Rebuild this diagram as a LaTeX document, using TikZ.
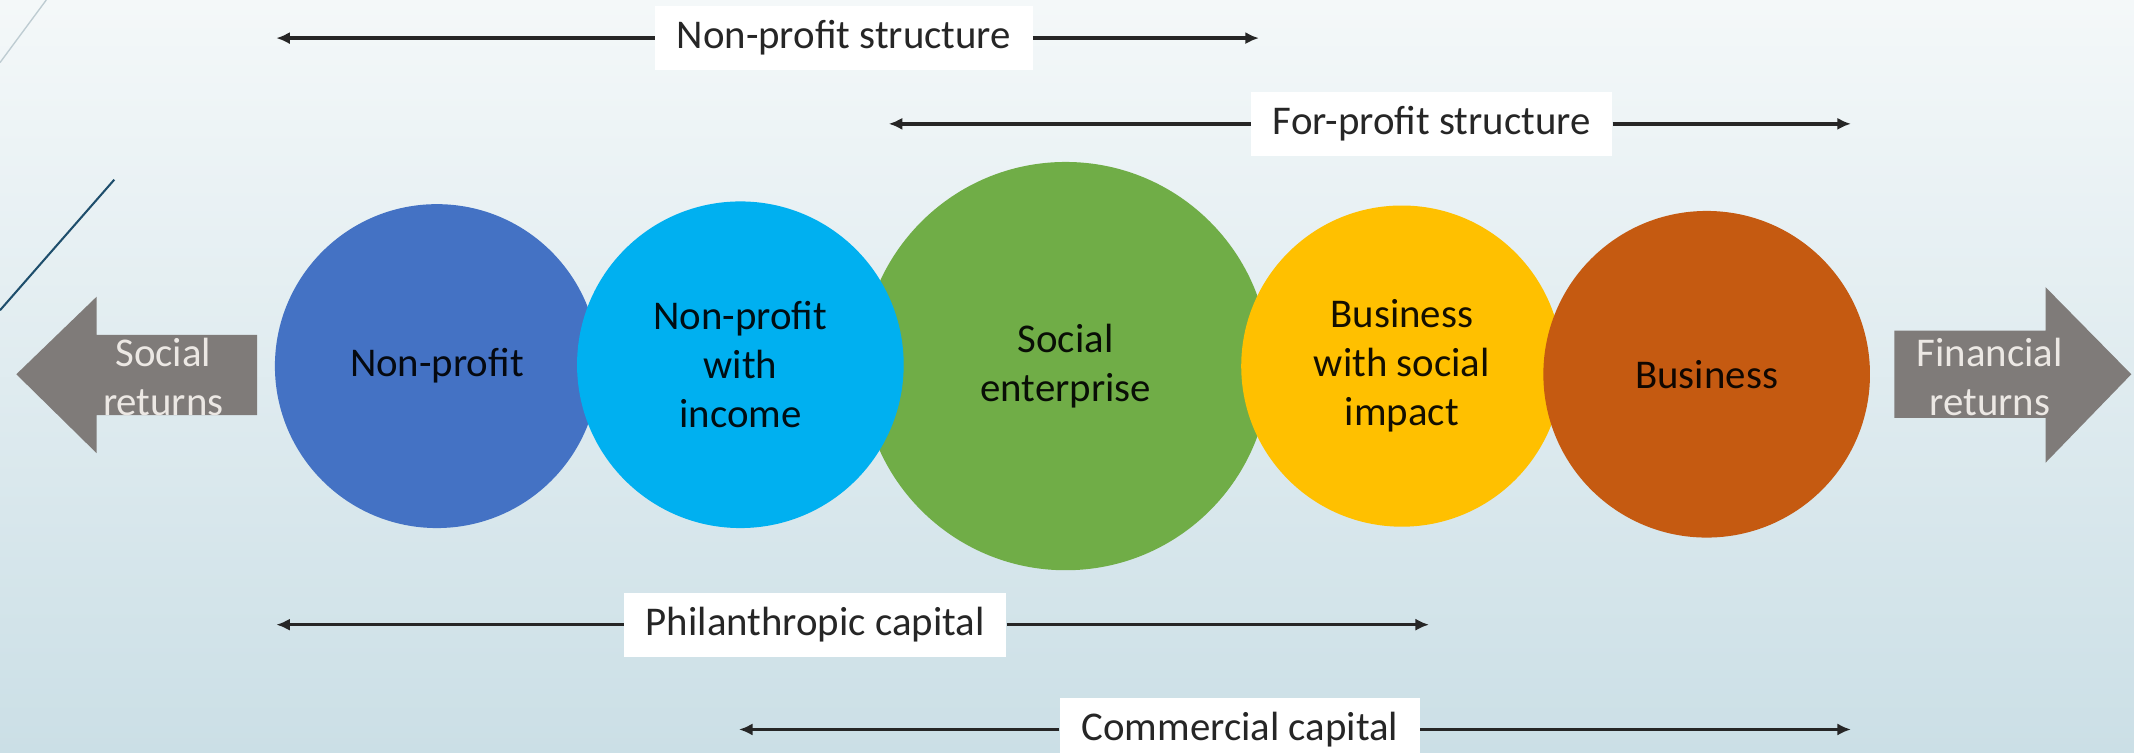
\documentclass[tikz,border=0pt]{standalone}
\usepackage{fontspec}
\setmainfont{Carlito}
\usetikzlibrary{arrows.meta}
\definecolor{bgtop}{RGB}{244,248,249}
\definecolor{bgbot}{RGB}{203,223,230}
\definecolor{cnp}{RGB}{68,114,196}
\definecolor{cnpi}{RGB}{0,176,240}
\definecolor{cse}{RGB}{112,173,71}
\definecolor{cbsi}{RGB}{255,192,0}
\definecolor{cbus}{RGB}{197,90,17}
\definecolor{agray}{RGB}{127,123,121}
\definecolor{atext}{RGB}{236,232,228}
\definecolor{ltext}{RGB}{38,38,38}
\definecolor{deco}{RGB}{30,78,108}
\definecolor{decol}{RGB}{190,204,210}
\tikzset{
  bubble/.style={circle, inner sep=0pt, align=center, font=\fontsize{30}{36}\selectfont},
  rangelab/.style={fill=white, inner xsep=16pt, inner ysep=0pt, minimum height=47pt, text=ltext, font=\fontsize{30}{36}\selectfont},
  rangeline/.style={draw=black!85, line width=2.6pt, -{Latex[length=10pt,width=9pt]}},
  bigarrow/.style={fill=agray},
  arrowtext/.style={text=atext, align=center, font=\fontsize{30}{36}\selectfont}
}
\begin{document}
\begin{tikzpicture}[x=1pt,y=-1pt]
\useasboundingbox (0,0) rectangle (1568,553);
\shade[top color=bgtop, bottom color=bgbot] (0,0) rectangle (1568,553);
% decorative lines
\draw[decol, line width=1pt] (0,46) -- (34,0);
\draw[deco, line width=1.5pt] (84,132) -- (0,228);
% big arrows
\fill[bigarrow] (12,275) -- (71,218) -- (71,246) -- (189,246) -- (189,305) -- (71,305) -- (71,333) -- cycle;
\fill[bigarrow] (1392,243) -- (1503,243) -- (1503,211) -- (1566,275) -- (1503,340) -- (1503,307) -- (1392,307) -- cycle;
\node[arrowtext] (soc) at (120,277) {Social\\returns};
\node[arrowtext] (fin) at (1462,277) {Financial\\returns};
% circles
\node[bubble, fill=cnp, minimum size=238pt, text=black!92!cnp] (np) at (321,269) {Non-profit};
\node[bubble, fill=cse, minimum size=300pt, text=black!92!cse] (se) at (783,269) {Social\\enterprise};
\node[bubble, fill=cnpi, minimum size=240pt, text=black!92!cnpi] (npi) at (544,268) {Non-profit\\with\\income};
\node[bubble, fill=cbsi, minimum size=236pt, text=black!92!cbsi] (bsi) at (1030,269) {Business\\with social\\impact};
\node[bubble, fill=cbus, minimum size=240pt, text=black!92!cbus] (bus) at (1254,275) {Business};
% range labels
\coordinate (nps-l) at (203,28);
\coordinate (nps-r) at (925,28);
\coordinate (fps-l) at (653,91);
\coordinate (fps-r) at (1360,91);
\coordinate (phc-l) at (203,459);
\coordinate (phc-r) at (1050,459);
\coordinate (coc-l) at (543,536);
\coordinate (coc-r) at (1360,536);
\node[rangelab] (nps) at (620,28) {Non-profit structure};
\node[rangelab] (fps) at (1052,91) {For-profit structure};
\node[rangelab] (phc) at (599,459) {Philanthropic capital};
\node[rangelab] (coc) at (911,536) {Commercial capital};
\draw[rangeline] (nps) -- (nps-l);
\draw[rangeline] (nps) -- (nps-r);
\draw[rangeline] (fps) -- (fps-l);
\draw[rangeline] (fps) -- (fps-r);
\draw[rangeline] (phc) -- (phc-l);
\draw[rangeline] (phc) -- (phc-r);
\draw[rangeline] (coc) -- (coc-l);
\draw[rangeline] (coc) -- (coc-r);
\end{tikzpicture}
\end{document}
